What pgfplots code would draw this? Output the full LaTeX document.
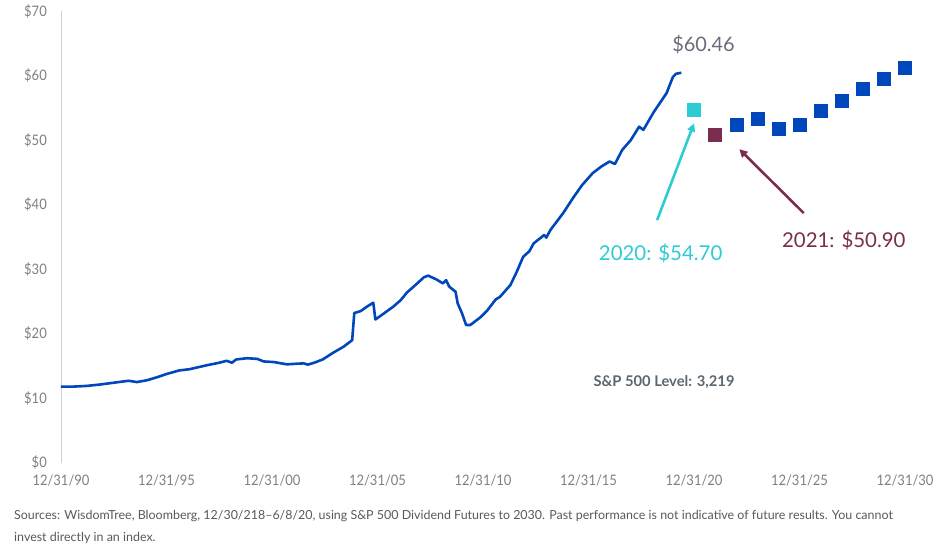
\documentclass[border=0pt]{standalone}
\usepackage{pgfplots}
\pgfplotsset{compat=1.18}
\usepackage{fontspec}
\setmainfont{Lato}
\newfontfamily\narrowfont{Lato}[FakeStretch=0.9]
\usetikzlibrary{arrows.meta}

\definecolor{divblue}{HTML}{0047BB}
\definecolor{futcyan}{HTML}{2DCCD3}
\definecolor{futmaroon}{HTML}{7A2E4F}
\definecolor{ticktext}{HTML}{7F7F7F}
\definecolor{notegray}{HTML}{5A6670}
\definecolor{lasttext}{HTML}{6C6A7C}
\definecolor{srctext}{HTML}{595959}

\begin{document}
\begin{tikzpicture}
\useasboundingbox (-61bp,-87.3bp) rectangle (878bp,462.7bp);
\begin{axis}[
  scale only axis,
  width=844bp, height=451.5bp,
  xmin=1991, xmax=2031, ymin=0, ymax=70,
  clip=false,
  axis x line*=bottom, axis y line*=left,
  axis line style={-},
  x axis line style={draw=none},
  y axis line style={draw=black!18, line width=0.8bp},
  major tick length=0,
  xtick={1991,1996,2001,2006,2011,2016,2021,2026,2031},
  xticklabels={12/31/90,12/31/95,12/31/00,12/31/05,12/31/10,12/31/15,12/31/20,12/31/25,12/31/30},
  ytick={0,10,20,30,40,50,60,70},
  yticklabels={\$0,\$10,\$20,\$30,\$40,\$50,\$60,\$70},
  tick label style={font=\narrowfont\fontsize{14.5}{16}\selectfont, text=ticktext, inner sep=0pt},
  xticklabel style={anchor=base, yshift=-23bp},
  yticklabel style={anchor=base east, xshift=-14bp, yshift=-5bp},
]
% trailing dividends per share, index points
\addplot[divblue, line width=2.6bp, line join=round] coordinates {
(1991.0,11.8) (1991.6,11.8) (1992.2,11.9) (1992.8,12.1) (1993.5,12.4)
(1994.2,12.7) (1994.6,12.5) (1995.1,12.8) (1995.6,13.3) (1996.0,13.75)
(1996.6,14.3) (1997.1,14.5) (1997.5,14.8) (1997.9,15.1) (1998.5,15.5)
(1998.85,15.8) (1999.1,15.5) (1999.3,16.0) (1999.8,16.2) (2000.3,16.1)
(2000.6,15.7) (2001.1,15.6) (2001.7,15.25) (2002.2,15.35) (2002.5,15.4)
(2002.7,15.2) (2003.0,15.5) (2003.4,16.0) (2003.9,17.05) (2004.4,18.0)
(2004.8,19.0) (2004.9,23.2) (2005.2,23.5) (2005.5,24.2) (2005.8,24.8)
(2005.9,22.2) (2006.2,22.9) (2006.75,24.2) (2007.1,25.2) (2007.4,26.4)
(2007.8,27.55) (2008.2,28.75) (2008.4,29.0) (2008.8,28.4) (2009.1,27.8)
(2009.25,28.3) (2009.4,27.3) (2009.7,26.5) (2009.8,24.7) (2010.0,23.2)
(2010.2,21.35) (2010.4,21.35) (2010.9,22.6) (2011.2,23.6) (2011.6,25.3)
(2011.8,25.7) (2012.3,27.55) (2012.6,29.6) (2012.9,31.9) (2013.2,32.8)
(2013.4,34.0) (2013.9,35.3) (2014.0,34.9) (2014.2,36.1) (2014.8,38.7)
(2015.3,41.2) (2015.7,43.05) (2016.2,44.9) (2016.6,45.9) (2017.0,46.7)
(2017.25,46.3) (2017.6,48.5) (2018.0,50.0) (2018.4,52.1) (2018.6,51.6)
(2019.1,54.4) (2019.7,57.3) (2020.0,59.8) (2020.15,60.3) (2020.4,60.46)
};
% dividend futures, year-end
\addplot[only marks, mark=square*, mark size=6.5bp, mark options={draw=futcyan, fill=futcyan}]
  coordinates {(2021,54.70)};
\addplot[only marks, mark=square*, mark size=6.5bp, mark options={draw=futmaroon, fill=futmaroon}]
  coordinates {(2022,50.90)};
\addplot[only marks, mark=square*, mark size=6.5bp, mark options={draw=divblue, fill=divblue}]
  coordinates {(2023,52.45) (2024,53.4) (2025,51.85) (2026,52.45) (2027,54.6)
               (2028,56.2) (2029,58.0) (2030,59.6) (2031,61.3)};

\draw[futcyan, line width=2.6bp, -{Triangle[length=8bp,width=8bp]}]
  (axis cs:2019.25,37.6) -- (axis cs:2021.0,52.6);
\draw[futmaroon, line width=2.6bp, -{Triangle[length=8bp,width=8bp]}]
  (axis cs:2026.2,38.7) -- (axis cs:2023.15,48.6);

\node[text=lasttext, font=\fontsize{20}{24}\selectfont] at (axis cs:2021.45,64.8) {\$60.46};
\node[text=futcyan, font=\fontsize{20.5}{24}\selectfont] at (axis cs:2019.42,32.5) {2020: \$54.70};
\node[text=futmaroon, font=\fontsize{20.5}{24}\selectfont] at (axis cs:2028.1,34.5) {2021: \$50.90};
\node[text=notegray, font=\bfseries\fontsize{14.8}{17}\selectfont] at (axis cs:2019.58,12.56) {S\&P 500 Level: 3,219};
\end{axis}
\node[anchor=base west, inner sep=0pt, text=srctext, font=\fontsize{12.5}{14}\selectfont]
  at (-47bp,-56.5bp) {Sources: WisdomTree, Bloomberg, 12/30/218\textendash 6/8/20, using S\&P 500 Dividend Futures to 2030. Past performance is not indicative of future results. You cannot};
\node[anchor=base west, inner sep=0pt, text=srctext, font=\fontsize{12.5}{14}\selectfont]
  at (-47bp,-78.5bp) {invest directly in an index.};
\end{tikzpicture}
\end{document}
